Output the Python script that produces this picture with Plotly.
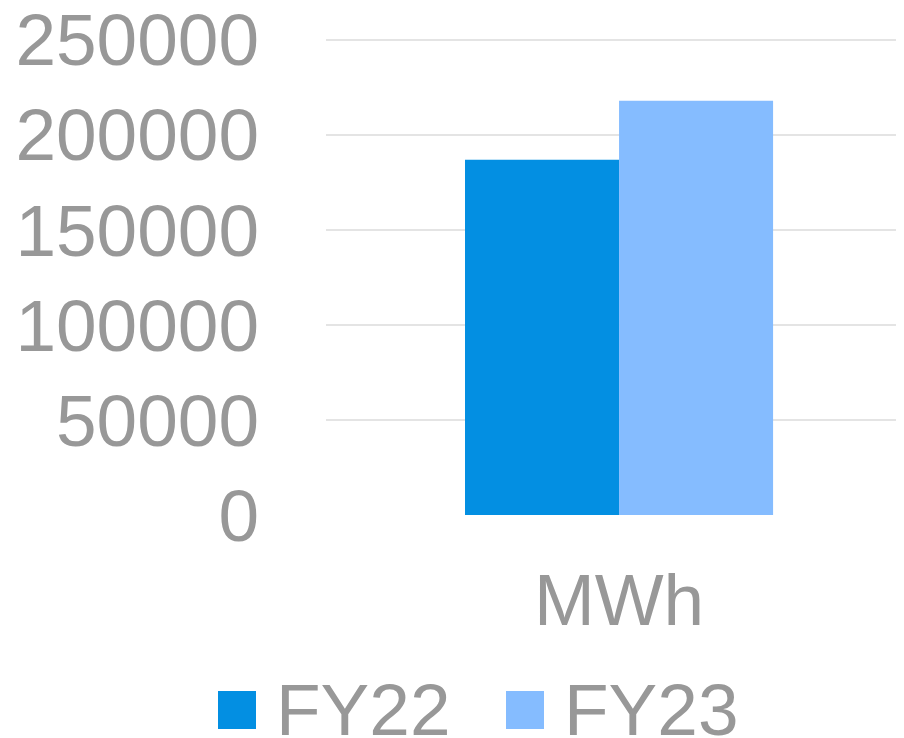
import plotly.graph_objects as go

categories = ["MWh"]
series_names = ["FY22", "FY23"]
fy22_values = [187000]
fy23_values = [218000]
series_colors = ["#038FE2", "#85BCFF"]
y_tickvals = [0, 50000, 100000, 150000, 200000, 250000]
y_ticktext = ["0", "50000", "100000", "150000", "200000", "250000"]
y_max = 251000

OFF = 8  # default page body margin
W, H = 904 - OFF, 738 - OFF
L, R, T = 326 - OFF, 0, 38 - OFF
B = H - (515 - OFF)
pw, ph = W - L - R, H - T - B
FONT = "Liberation Sans, Arial, sans-serif"
GRAY = "#989898"
FS = 73

fig = go.Figure()
for name, vals, col in zip(series_names, [fy22_values, fy23_values], series_colors):
    fig.add_trace(go.Bar(x=categories, y=vals, name=name, marker=dict(color=col, line=dict(width=0)),
                         showlegend=False))

def px2x(px):
    return (px - OFF - L) / pw

def py2y(py):
    return ((H - B) - (py - OFF)) / ph

shapes = []
annotations = []
legend_sq_x = [218, 506]
legend_txt_x = [279, 567]
for i, (name, col) in enumerate(zip(series_names, series_colors)):
    shapes.append(dict(type="rect", xref="paper", yref="paper",
                       x0=px2x(legend_sq_x[i]), x1=px2x(legend_sq_x[i] + 38),
                       y0=py2y(729), y1=py2y(691), fillcolor=col, line=dict(width=0)))
    annotations.append(dict(text=name, xref="paper", yref="paper", x=px2x(legend_txt_x[i] - 5),
                            y=py2y(709), xanchor="left", yanchor="middle", showarrow=False,
                            font=dict(family=FONT, size=FS, color=GRAY)))

fig.update_layout(
    width=W, height=H,
    margin=dict(l=L, r=R, t=T, b=B, pad=0, autoexpand=False),
    paper_bgcolor="white", plot_bgcolor="white",
    barmode="group", bargap=0.467, bargroupgap=0,
    showlegend=False,
    shapes=shapes, annotations=annotations,
    font=dict(family=FONT, size=FS, color=GRAY),
)
fig.update_xaxes(range=[-0.507, 0.493], showgrid=False, zeroline=False, showline=False,
                 ticks="", ticklabelstandoff=36, ticklabeloverflow="allow", automargin=False,
                 tickfont=dict(family=FONT, size=FS, color=GRAY))
fig.update_yaxes(range=[0, y_max], tickvals=y_tickvals, ticktext=y_ticktext,
                 showgrid=True, gridcolor="#E4E4E4", gridwidth=2, zeroline=False, showline=False,
                 ticks="", ticklabelstandoff=66, ticklabeloverflow="allow", automargin=False,
                 tickfont=dict(family=FONT, size=FS, color=GRAY))

fig.write_html("out.html")
